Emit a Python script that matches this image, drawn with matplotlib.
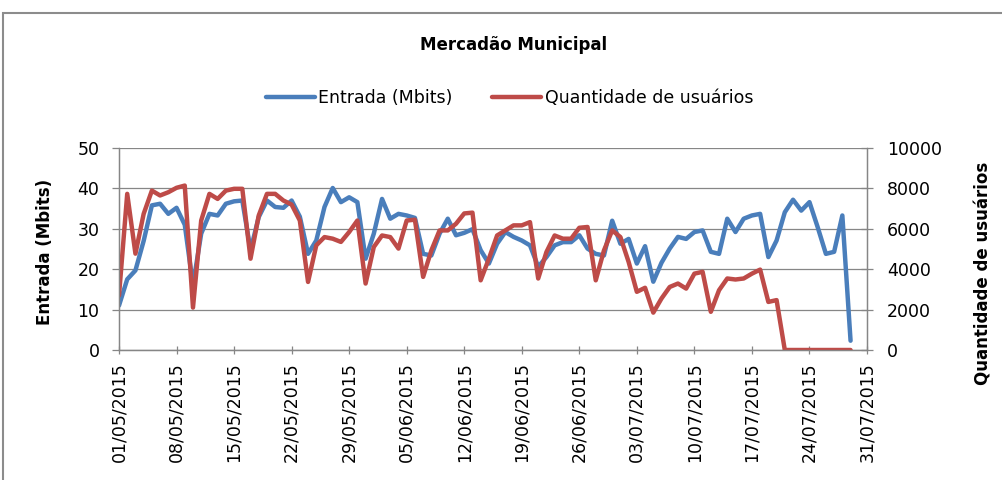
import matplotlib
matplotlib.use("Agg")
import matplotlib.pyplot as plt
import matplotlib.dates as mdates
from matplotlib.patches import Rectangle
import pandas as pd

# daily values, 01/05/2015 onwards
entrada = [11.0, 17.5, 19.7, 27.0, 35.8, 36.2, 33.7, 35.2, 31.0, 16.0,
           28.8, 33.7, 33.3, 36.2, 36.8, 37.0, 24.7, 32.9, 37.0, 35.4,
           35.2, 37.0, 33.0, 23.8, 27.1, 35.4, 40.1, 36.6, 37.8, 36.6,
           22.6, 28.8, 37.4, 32.5, 33.7, 33.3, 32.7, 23.8, 23.4, 28.8,
           32.5, 28.4, 29.0, 29.9, 24.7, 21.4, 26.3, 29.2, 28.0, 27.1,
           25.9, 20.6, 23.0, 25.9, 26.7, 26.7, 28.4, 25.1, 23.8, 23.4,
           32.0, 26.3, 27.5, 21.4, 25.7, 16.9, 21.6, 25.1, 28.0, 27.5,
           29.2, 29.6, 24.3, 23.8, 32.5, 29.2, 32.5, 33.3, 33.7, 23.0,
           27.1, 34.1, 37.2, 34.5, 36.6, 30.4, 23.8, 24.3, 33.3, 2.3]
usuarios = [2700, 7730, 4770, 6740, 7890, 7650, 7810, 8030, 8140, 2100,
            6410, 7730, 7480, 7890, 7980, 7980, 4520, 6660, 7730, 7730,
            7400, 7200, 6410, 3370, 5180, 5590, 5510, 5350, 5840, 6410,
            3290, 5100, 5670, 5590, 5020, 6410, 6450, 3620, 4930, 5920,
            5920, 6250, 6760, 6800, 3450, 4520, 5670, 5920, 6170, 6170,
            6330, 3540, 4850, 5670, 5510, 5510, 6050, 6090, 3450, 4930,
            5920, 5590, 4360, 2880, 3080, 1850, 2550, 3120, 3290, 3040,
            3780, 3870, 1890, 2960, 3540, 3490, 3540, 3780, 3980, 2380,
            2470, 0, 0, 0, 0, 0, 0, 0, 0, 0]
datas = pd.date_range("2015-05-01", periods=len(entrada), freq="D")

azul = "#4A7EBB"
vermelho = "#BE4B48"
cinza = "#868686"

plt.rcParams["font.family"] = "DejaVu Sans"

fig = plt.figure(figsize=(10.03, 4.8), dpi=100)
fig.patches.append(Rectangle((3 / 1003, -0.1), 1.1, 1.1 - 12.5 / 480 + 0.0,
                             transform=fig.transFigure, fill=False,
                             edgecolor="#8c8c8c", linewidth=1.5))

ax = fig.add_axes([119 / 1003, 130 / 480, 748 / 1003, 202 / 480])
ax2 = ax.twinx()

l1, = ax.plot(datas, entrada, color=azul, lw=3.2, solid_joinstyle="round",
              solid_capstyle="round")
l2, = ax2.plot(datas, usuarios, color=vermelho, lw=3.2,
               solid_joinstyle="round", solid_capstyle="round")

ax.set_xlim(pd.Timestamp("2015-05-01"), pd.Timestamp("2015-07-31"))
ax.set_ylim(0, 50)
ax2.set_ylim(0, 10000)
ax.set_yticks(range(0, 51, 10))
ax2.set_yticks(range(0, 10001, 2000))

ax.xaxis.set_major_locator(mdates.DayLocator(bymonthday=None, interval=7))
ax.set_xticks(pd.date_range("2015-05-01", "2015-07-31", freq="7D"))
ax.xaxis.set_major_formatter(mdates.DateFormatter("%d/%m/%Y"))
plt.setp(ax.get_xticklabels(), rotation=90, va="top", ha="center")

ax.grid(axis="y", color=cinza, lw=0.9)
ax.set_axisbelow(True)
for a in (ax, ax2):
    a.spines["top"].set_visible(False)
    for s in ("left", "right", "bottom"):
        a.spines[s].set_color(cinza)
        a.spines[s].set_linewidth(0.9)

ax.tick_params(axis="x", direction="inout", length=6, width=0.9, color=cinza,
               pad=6, labelsize=12.5)
ax.tick_params(axis="y", direction="out", length=5, width=0.9, color=cinza,
               pad=9, labelsize=12.5)
ax2.tick_params(axis="y", direction="inout", length=9, width=0.9, color=cinza,
                pad=10, labelsize=12.5)

ax.set_ylabel("Entrada (Mbits)", fontsize=12, fontweight="bold")
ax.yaxis.set_label_coords(-0.087, 0.485)
ax2.set_ylabel("Quantidade de usuários", fontsize=12, fontweight="bold",
               rotation=90)
ax2.yaxis.set_label_coords(1.144, 0.38)

fig.text(0.512, 1 - 45 / 480, "Mercadão Municipal", ha="center",
         va="center", fontsize=12, fontweight="bold")

fig.legend([l1, l2], ["Entrada (Mbits)", "Quantidade de usuários"],
           loc="center", bbox_to_anchor=(0.508, 1 - 98 / 480), ncol=2,
           frameon=False, fontsize=12.5, handlelength=2.8,
           handletextpad=0.2, columnspacing=2.3)

fig.savefig("out.png", dpi=100)
